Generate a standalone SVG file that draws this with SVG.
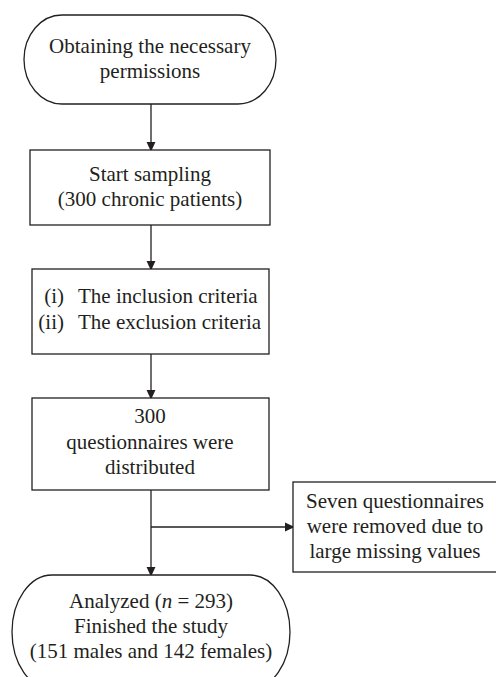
<svg xmlns="http://www.w3.org/2000/svg" width="496" height="677" viewBox="0 0 496 677">
<defs>
<style>
.n{fill:#fff;stroke:#231f20;stroke-width:1.3}
.t{font-family:"Liberation Serif","Times New Roman",serif;font-size:21px;fill:#231f20;text-anchor:middle}
.e{text-anchor:end}
.s{text-anchor:start}
.c{fill:none;stroke:#231f20;stroke-width:1.3}
</style>
<marker id="ah" markerWidth="10" markerHeight="12" refX="10" refY="5.5" orient="auto" markerUnits="userSpaceOnUse" viewBox="0 0 12 11">
<path d="M0,0 L12,5.5 L0,11 Z" fill="#231f20"/>
</marker>
</defs>
<rect width="496" height="677" fill="#fff"/>
<g id="connectors">
<line class="c" x1="151" y1="104" x2="151" y2="150" marker-end="url(#ah)"/>
<line class="c" x1="151" y1="225" x2="151" y2="269" marker-end="url(#ah)"/>
<line class="c" x1="151" y1="354" x2="151" y2="398" marker-end="url(#ah)"/>
<line class="c" x1="151" y1="490" x2="151" y2="575" marker-end="url(#ah)"/>
<line class="c" x1="151" y1="527" x2="293" y2="527" marker-end="url(#ah)"/>
</g>
<g id="n1">
<rect class="n" x="24" y="15" width="252" height="89" rx="38" ry="44.5"/>
<text class="t" x="150" y="53">Obtaining the necessary</text>
<text class="t" x="150" y="78">permissions</text>
</g>
<g id="n2">
<rect class="n" x="30" y="150" width="240" height="75"/>
<text class="t" x="150" y="181">Start sampling</text>
<text class="t" x="150" y="206">(300 chronic patients)</text>
</g>
<g id="n3">
<rect class="n" x="32" y="269" width="237" height="85"/>
<text class="t e" x="64" y="303">(i)</text>
<text class="t s" x="78" y="303">The inclusion criteria</text>
<text class="t e" x="64" y="329">(ii)</text>
<text class="t s" x="78" y="329">The exclusion criteria</text>
</g>
<g id="n4">
<rect class="n" x="32" y="398" width="237" height="92"/>
<text class="t" x="150" y="423">300</text>
<text class="t" x="150" y="449">questionnaires were</text>
<text class="t" x="150" y="474">distributed</text>
</g>
<g id="n5">
<rect class="n" x="293" y="482" width="210" height="90"/>
<text class="t" x="395" y="508">Seven questionnaires</text>
<text class="t" x="395" y="533">were removed due to</text>
<text class="t" x="395" y="558">large missing values</text>
</g>
<g id="n6">
<rect class="n" x="12" y="575" width="278" height="114" rx="40" ry="57"/>
<text class="t" x="151" y="608">Analyzed (<tspan font-style="italic">n</tspan> = 293)</text>
<text class="t" x="151" y="633">Finished the study</text>
<text class="t" x="151" y="658">(151 males and 142 females)</text>
</g>
</svg>
